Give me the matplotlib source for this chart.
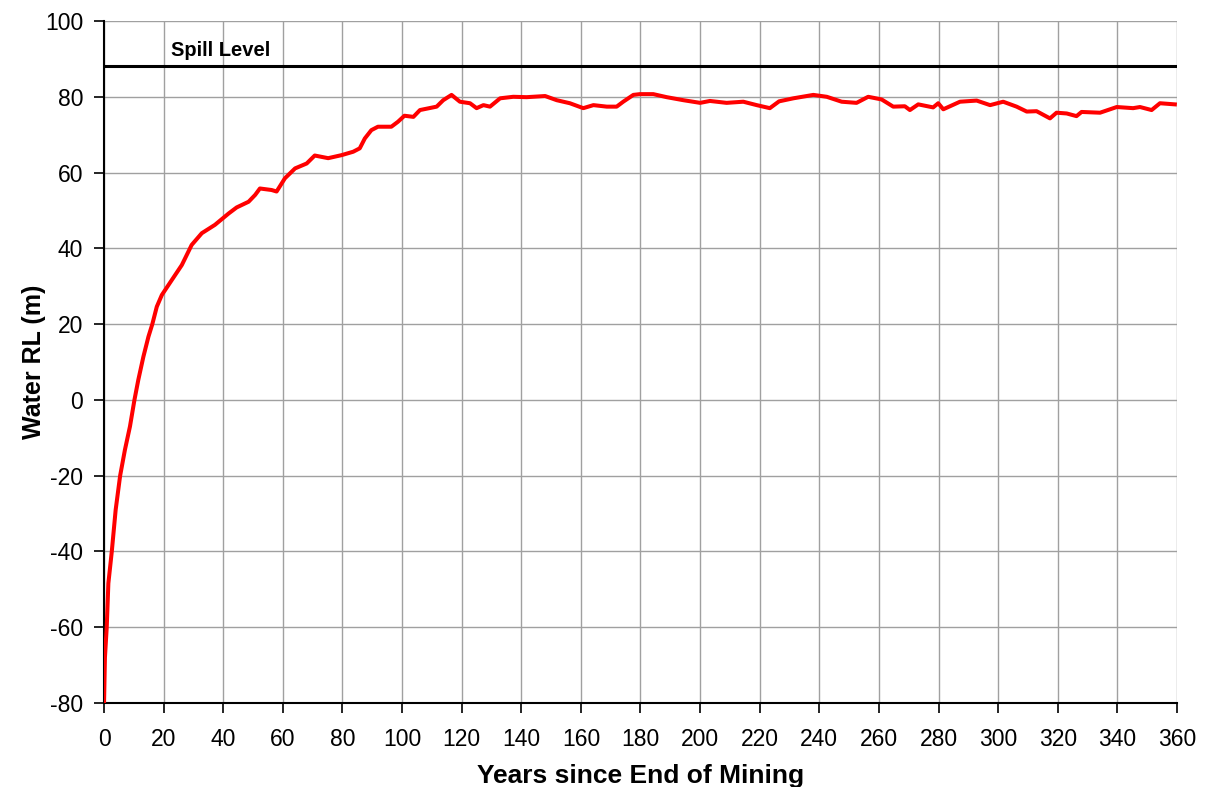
import numpy as np
import matplotlib.pyplot as plt

plt.rcParams['font.family'] = ['Liberation Sans', 'DejaVu Sans']
plt.rcParams['axes.unicode_minus'] = False

# water level
years = [0, 0.3, 0.9, 1.45, 2.6, 3.9, 5.4, 7.0, 8.7, 10.2, 11.5, 13.2, 14.9, 16.2,
         17.7, 19.4, 22.7, 26.1, 29.4, 32.8, 37.2, 41.8, 44.5, 48.5, 50.7, 52.3,
         56.2, 57.9, 60.7, 64.1, 68.0, 70.7, 75.2, 79.7, 83.6, 85.8, 87.5, 89.7,
         91.9, 96.4, 98.6, 100.8, 103.8, 106.0, 111.6, 113.8, 116.6, 119.4, 122.8,
         125.0, 127.3, 129.5, 132.9, 137.3, 141.8, 148.0, 151.9, 156.3, 160.8,
         164.2, 168.7, 172.0, 174.2, 177.6, 179.8, 184.3, 188.8, 194.4, 200.0,
         203.3, 208.9, 214.5, 219.0, 223.4, 226.5, 231.3, 238.0, 242.5, 247.5,
         252.5, 256.4, 260.9, 264.8, 268.7, 270.4, 273.2, 278.2, 279.9, 281.6,
         287.2, 292.8, 297.3, 301.7, 306.2, 309.6, 312.9, 317.4, 319.6, 323.0,
         326.3, 328.0, 334.2, 339.8, 345.3, 347.6, 351.5, 354.3, 359.3]
level = [-80, -68, -60, -48.4, -40, -29, -20, -13.2, -7, 0, 5.3, 11.4, 16.7, 20,
         24.6, 27.7, 31.6, 35.6, 40.9, 44, 46.2, 49.2, 50.8, 52.3, 54.1, 55.8,
         55.4, 55, 58.5, 61.1, 62.4, 64.5, 63.8, 64.6, 65.5, 66.4, 69, 71.2,
         72.1, 72.1, 73.4, 75, 74.7, 76.5, 77.4, 79.1, 80.5, 78.7, 78.3,
         77, 77.8, 77.4, 79.6, 80, 79.9, 80.2, 79.1, 78.3, 77,
         77.8, 77.4, 77.4, 78.7, 80.5, 80.7, 80.7, 79.9, 79.1, 78.4,
         78.9, 78.4, 78.7, 77.8, 77, 78.8, 79.6, 80.5, 80, 78.7,
         78.4, 80, 79.3, 77.4, 77.5, 76.5, 78, 77.2, 78.3, 76.7,
         78.7, 79, 77.8, 78.7, 77.4, 76.1, 76.2, 74.3, 75.8, 75.6,
         74.9, 76, 75.8, 77.3, 77, 77.3, 76.5, 78.3, 78]

spill_level = 88

fig = plt.figure(figsize=(12.07, 7.87), dpi=100)
ax = fig.add_axes([0.0862, 0.1067, 0.8889, 0.8666])

ax.plot(years, level, color='#ff0000', linewidth=2.9, zorder=3)
ax.axhline(spill_level, color='black', linewidth=2.2, zorder=4)
ax.text(22.5, 90.8, 'Spill Level', fontsize=14.5, fontweight='bold')

ax.set_xlim(0, 360)
ax.set_ylim(-80, 100)
ax.set_xticks(np.arange(0, 361, 20))
ax.set_yticks(np.arange(-80, 101, 20))
ax.grid(True, color='#a0a0a0', linewidth=1)
ax.set_axisbelow(True)
ax.tick_params(labelsize=16.5, direction='out', length=7, width=1.2, color='black')
ax.tick_params(axis='x', pad=11)
ax.tick_params(axis='y', pad=8)

for s in ['top', 'right']:
    ax.spines[s].set_visible(False)
for s in ['left', 'bottom']:
    ax.spines[s].set_linewidth(1.5)

ax.set_xlabel('Years since End of Mining', fontsize=19, fontweight='bold', labelpad=9)
ax.set_ylabel('Water RL (m)', fontsize=18, fontweight='bold', labelpad=-1)

fig.savefig('out.png', dpi=100)
